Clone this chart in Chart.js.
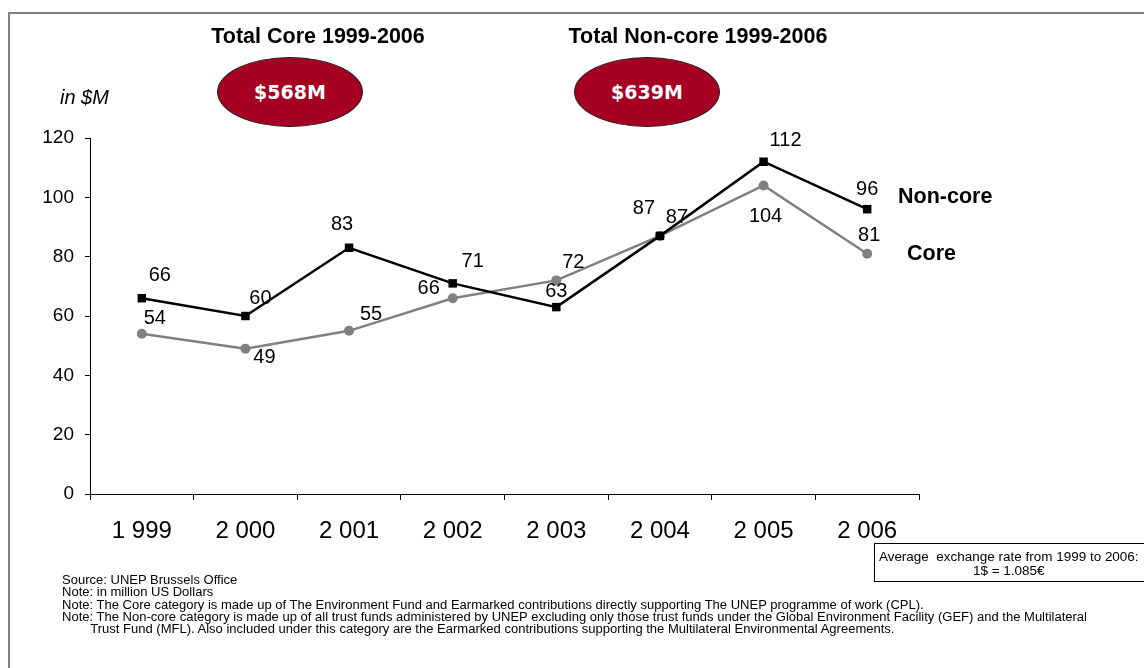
<!DOCTYPE html>
<html>
<head>
<meta charset="utf-8">
<script src="https://cdn.jsdelivr.net/npm/chart.js@4.4.1/dist/chart.umd.min.js"></script>
<style>
  html, body { margin: 0; padding: 0; background: #fff; }
  #wrap { position: relative; width: 1144px; height: 668px; overflow: hidden; font-family: Arial, "Liberation Sans", sans-serif; color: #000; }
  #fundChart { position: absolute; left: 0; top: 0; }
  .frame { position: absolute; left: 8px; top: 12px; width: 1200px; height: 700px; border-top: 2px solid #808080; border-left: 2px solid #808080; }
  .title { position: absolute; top: 24px; font-size: 21.5px; font-weight: bold; white-space: nowrap; transform: translateX(-50%); }
  .oval { position: absolute; width: 146px; height: 70px; border-radius: 50%; background: #a50021; border: 1px solid #222; box-sizing: border-box;
          color: #fff; font-family: "DejaVu Sans", Verdana, sans-serif; font-weight: bold; font-size: 19px; line-height: 68px; text-align: center; }
  .unit { position: absolute; left: 60px; top: 86px; font-size: 20px; font-style: italic; }
  .series { position: absolute; font-size: 21.5px; font-weight: bold; white-space: nowrap; }
  .fx { position: absolute; left: 874px; top: 543px; width: 290px; height: 39px; border: 1px solid #000; box-sizing: border-box;
        font-size: 12.6px; line-height: 14px; padding: 6px 0 0 0; }
  .fx div { width: 250px; text-align: center; transform: scaleX(1.07); transform-origin: left; }
  .notes { position: absolute; left: 62px; top: 574px; font-size: 12px; line-height: 12.3px; white-space: nowrap;
           transform: scaleX(1.085); transform-origin: left top; }
  .notes .indent { padding-left: 26px; }
</style>
</head>
<body>
<div id="wrap">
  <div class="frame"></div>
  <canvas id="fundChart" width="1144" height="668"></canvas>

  <div class="title" style="left:318px">Total Core 1999-2006</div>
  <div class="title" style="left:698px">Total Non-core 1999-2006</div>
  <div class="oval" style="left:217px; top:57px">$568M</div>
  <div class="oval" style="left:574px; top:57px">$639M</div>
  <div class="unit">in $M</div>

  <div class="series" style="left:898px; top:184px">Non-core</div>
  <div class="series" style="left:907px; top:241px">Core</div>

  <div class="fx">
    <div>Average&nbsp; exchange rate from 1999 to 2006:</div>
    <div>1$ = 1.085€</div>
  </div>

  <div class="notes">
    <div>Source: UNEP Brussels Office</div>
    <div>Note: in million US Dollars</div>
    <div>Note: The Core category is made up of The Environment Fund and Earmarked contributions directly supporting The UNEP programme of work (CPL).</div>
    <div>Note: The Non-core category is made up of all trust funds administered by UNEP excluding only those trust funds under the Global Environment Facility (GEF) and the Multilateral</div>
    <div class="indent">Trust Fund (MFL). Also included under this category are the Earmarked contributions supporting the Multilateral Environmental Agreements.</div>
  </div>
</div>

<script>
// yearly contributions, million USD
const years = ['1 999', '2 000', '2 001', '2 002', '2 003', '2 004', '2 005', '2 006'];
const nonCore = [66, 60, 83, 71, 63, 87, 112, 96];
const core = [54, 49, 55, 66, 72, 87, 104, 81];
const yTicks = [0, 20, 40, 60, 80, 100, 120];

// where each value label sits relative to its marker (px)
const nonCoreLabelShift = [[18, -23], [15, -18], [-7, -23], [20, -22], [0, -16], [17, -18], [22, -21], [0, -20]];
const coreLabelShift = [[13, -15], [19, 9], [22, -16], [-24, -10], [17, -18], [-16, -27], [2, 31], [2, -18]];

const FONT = 'Arial, "Liberation Sans", sans-serif';

const valueLabels = {
    id: 'valueLabels',
    afterDatasetsDraw(chart) {
        const ctx = chart.ctx;
        ctx.save();
        ctx.font = '20px ' + FONT;
        ctx.fillStyle = '#000';
        ctx.textAlign = 'center';
        ctx.textBaseline = 'middle';
        chart.data.datasets.forEach((ds, i) => {
            const meta = chart.getDatasetMeta(i);
            meta.data.forEach((pt, j) => {
                const s = ds.labelShift[j];
                ctx.fillText(String(ds.data[j]), pt.x + s[0], pt.y + s[1]);
            });
        });
        ctx.restore();
    }
};

new Chart(document.getElementById('fundChart'), {
    type: 'line',
    data: {
        labels: years,
        datasets: [
            {
                label: 'Non-core',
                data: nonCore,
                labelShift: nonCoreLabelShift,
                borderColor: '#000',
                backgroundColor: '#000',
                borderWidth: 2.5,
                pointStyle: 'rect',
                pointRadius: 6,
                pointBorderWidth: 0,
                tension: 0,
                order: 0
            },
            {
                label: 'Core',
                data: core,
                labelShift: coreLabelShift,
                borderColor: '#808080',
                backgroundColor: '#808080',
                borderWidth: 2.5,
                pointStyle: 'circle',
                pointRadius: 5,
                pointBorderWidth: 0,
                tension: 0,
                order: 1
            }
        ]
    },
    options: {
        responsive: false,
        animation: false,
        layout: { padding: { left: 0, top: 138, right: 225, bottom: 0 } },
        plugins: {
            legend: { display: false },
            tooltip: { enabled: false }
        },
        scales: {
            x: {
                offset: true,
                grid: { offset: true, drawOnChartArea: false, drawTicks: true, tickLength: 6, color: '#000', lineWidth: 1 },
                border: { display: true, color: '#000', width: 1 },
                ticks: { color: '#000', font: { family: FONT, size: 24 }, padding: 17, maxRotation: 0, autoSkip: false },
                afterFit: (scale) => { scale.height = 174; }
            },
            y: {
                min: 0,
                max: 120,
                afterBuildTicks: (scale) => { scale.ticks = yTicks.map(v => ({ value: v })); },
                grid: { drawOnChartArea: false, drawTicks: true, tickLength: 5, color: '#000', lineWidth: 1 },
                border: { display: true, color: '#000', width: 1 },
                ticks: { color: '#000', font: { family: FONT, size: 19 }, padding: 11 },
                afterFit: (scale) => { scale.width = 90; }
            }
        }
    },
    plugins: [valueLabels]
});
</script>
</body>
</html>
